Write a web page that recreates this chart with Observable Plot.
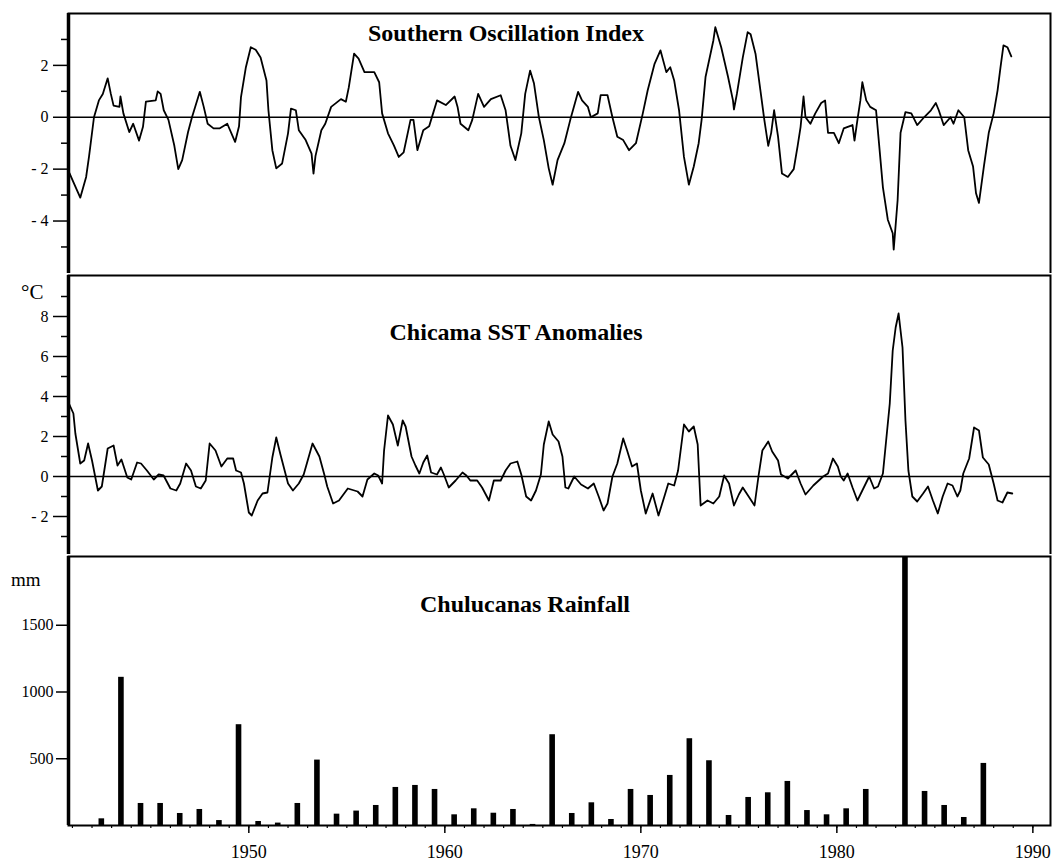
<!DOCTYPE html>
<html><head><meta charset="utf-8">
<script src="https://cdn.jsdelivr.net/npm/d3@7"></script>
<script src="https://cdn.jsdelivr.net/npm/@observablehq/plot@0.6"></script>
<style>
body{margin:0;background:#fff;}
#wrap{position:relative;width:1062px;height:861px;font-family:"Liberation Serif","Times New Roman",serif;color:#000;overflow:hidden;}
.p{position:absolute;left:0;}
.p svg{display:block;}
.title{position:absolute;font-weight:bold;font-size:24px;line-height:24px;white-space:nowrap;transform:translateX(-50%);}
.lab{position:absolute;white-space:nowrap;}
</style></head><body><div id="wrap"></div>
<script>
// ---------- data ----------
const soiYears = [1940.75,1940.85,1941.05,1941.4,1941.7,1941.85,1942.1,1942.35,1942.55,1942.8,1942.96,1943.1,1943.4,1943.45,1943.6,1943.9,1944.1,1944.4,1944.6,1944.75,1945.25,1945.35,1945.5,1945.66,1945.9,1946.2,1946.4,1946.6,1946.9,1947.1,1947.5,1947.7,1947.9,1948.2,1948.5,1948.9,1949.3,1949.5,1949.6,1949.85,1950.1,1950.35,1950.6,1950.9,1951.0,1951.2,1951.4,1951.7,1952.0,1952.15,1952.4,1952.55,1952.9,1953.2,1953.3,1953.4,1953.7,1953.9,1954.2,1954.7,1954.95,1955.1,1955.37,1955.6,1955.9,1956.4,1956.65,1956.8,1957.1,1957.4,1957.65,1957.9,1958.25,1958.4,1958.6,1958.9,1959.2,1959.4,1959.6,1960.05,1960.5,1960.65,1960.8,1961.2,1961.4,1961.7,1962.0,1962.35,1962.85,1963.1,1963.35,1963.6,1963.9,1964.1,1964.35,1964.55,1964.8,1965.05,1965.3,1965.5,1965.75,1966.1,1966.4,1966.8,1967.0,1967.3,1967.45,1967.8,1967.95,1968.3,1968.55,1968.8,1969.1,1969.4,1969.75,1970.1,1970.35,1970.7,1971.0,1971.3,1971.5,1971.7,1971.95,1972.2,1972.45,1972.7,1972.95,1973.1,1973.3,1973.7,1973.8,1974.1,1974.45,1974.7,1974.75,1974.9,1975.2,1975.45,1975.6,1975.85,1976.1,1976.3,1976.5,1976.65,1976.8,1977.0,1977.2,1977.5,1977.8,1978.0,1978.15,1978.3,1978.4,1978.65,1978.9,1979.2,1979.4,1979.55,1979.85,1980.1,1980.35,1980.8,1980.9,1981.05,1981.2,1981.3,1981.5,1981.7,1982.0,1982.15,1982.35,1982.6,1982.85,1982.9,1983.1,1983.25,1983.5,1983.8,1984.1,1984.45,1984.8,1985.05,1985.2,1985.45,1985.8,1985.95,1986.2,1986.5,1986.7,1986.95,1987.1,1987.25,1987.5,1987.75,1988.0,1988.2,1988.35,1988.5,1988.7,1988.9];
const soiValues = [-1.96,-2.15,-2.5,-3.1,-2.3,-1.5,0.0,0.65,0.9,1.5,0.9,0.45,0.4,0.8,0.15,-0.57,-0.25,-0.9,-0.37,0.6,0.65,1.0,0.9,0.27,-0.1,-1.1,-2.0,-1.65,-0.57,0.0,0.98,0.4,-0.25,-0.43,-0.43,-0.25,-0.95,-0.35,0.78,1.93,2.7,2.6,2.3,1.42,0.27,-1.27,-1.97,-1.78,-0.62,0.33,0.27,-0.5,-0.88,-1.4,-2.17,-1.5,-0.5,-0.25,0.4,0.7,0.6,1.15,2.45,2.26,1.74,1.74,1.35,0.15,-0.62,-1.08,-1.53,-1.35,-0.1,-0.1,-1.27,-0.5,-0.35,0.15,0.65,0.47,0.8,0.4,-0.25,-0.5,-0.1,0.9,0.4,0.7,0.85,0.27,-1.1,-1.65,-0.62,0.9,1.8,1.3,0.0,-0.88,-1.97,-2.6,-1.65,-1.0,-0.1,0.98,0.65,0.4,0.0,0.15,0.85,0.85,0.0,-0.75,-0.88,-1.27,-1.0,0.15,1.04,2.06,2.58,1.74,1.93,1.42,0.27,-1.53,-2.6,-1.9,-1.0,-0.1,1.55,2.96,3.47,2.7,1.55,0.65,0.3,0.9,2.3,3.28,3.2,2.45,1.04,-0.1,-1.1,-0.6,0.27,-0.75,-2.17,-2.3,-2.0,-1.1,-0.37,0.8,0.0,-0.25,0.15,0.55,0.65,-0.6,-0.6,-1.0,-0.43,-0.3,-0.9,-0.1,0.65,1.35,0.65,0.4,0.27,-1.0,-2.7,-3.95,-4.47,-5.1,-3.2,-0.6,0.2,0.15,-0.3,0.0,0.27,0.55,0.27,-0.3,0.0,-0.25,0.27,0.0,-1.27,-1.9,-2.93,-3.3,-1.9,-0.6,0.15,1.04,1.93,2.77,2.7,2.35];

const sstYears = [1940.8,1941.05,1941.15,1941.4,1941.6,1941.8,1942.0,1942.3,1942.5,1942.8,1943.1,1943.3,1943.5,1943.8,1944.0,1944.3,1944.5,1944.8,1945.15,1945.4,1945.65,1946.0,1946.3,1946.5,1946.8,1947.05,1947.3,1947.55,1947.8,1948.0,1948.3,1948.6,1948.9,1949.2,1949.35,1949.6,1949.75,1950.0,1950.15,1950.45,1950.7,1950.95,1951.2,1951.4,1951.6,1952.0,1952.25,1952.55,1952.8,1953.25,1953.6,1953.85,1954.0,1954.3,1954.6,1955.05,1955.55,1955.8,1956.05,1956.4,1956.6,1956.8,1956.9,1957.1,1957.35,1957.6,1957.85,1958.0,1958.3,1958.5,1958.7,1958.9,1959.1,1959.3,1959.6,1959.8,1959.95,1960.2,1960.55,1960.9,1961.1,1961.3,1961.65,1961.9,1962.25,1962.5,1962.85,1963.1,1963.35,1963.7,1963.9,1964.15,1964.4,1964.65,1964.9,1965.05,1965.3,1965.5,1965.8,1966.0,1966.15,1966.3,1966.6,1966.95,1967.3,1967.6,1967.85,1968.1,1968.3,1968.55,1968.8,1969.1,1969.3,1969.55,1969.8,1970.0,1970.25,1970.6,1970.9,1971.2,1971.4,1971.7,1971.9,1972.2,1972.45,1972.7,1972.9,1973.05,1973.4,1973.7,1974.0,1974.25,1974.5,1974.75,1975.0,1975.2,1975.5,1975.8,1976.0,1976.2,1976.5,1976.7,1977.0,1977.15,1977.5,1977.9,1978.15,1978.4,1978.8,1979.3,1979.55,1979.8,1980.05,1980.2,1980.35,1980.55,1980.8,1981.05,1981.3,1981.65,1981.9,1982.1,1982.35,1982.5,1982.7,1982.85,1983.0,1983.15,1983.35,1983.5,1983.65,1983.85,1984.1,1984.4,1984.65,1984.9,1985.15,1985.4,1985.65,1985.9,1986.15,1986.3,1986.45,1986.75,1987.0,1987.25,1987.45,1987.75,1988.0,1988.2,1988.45,1988.7,1988.95];
const sstValues = [3.7,3.15,2.15,0.65,0.8,1.65,0.8,-0.7,-0.5,1.4,1.55,0.55,0.85,-0.05,-0.15,0.7,0.65,0.3,-0.15,0.1,0.05,-0.6,-0.7,-0.35,0.65,0.3,-0.5,-0.6,-0.2,1.65,1.3,0.5,0.9,0.9,0.3,0.2,-0.35,-1.8,-1.95,-1.2,-0.85,-0.8,0.95,1.95,1.15,-0.35,-0.7,-0.35,0.1,1.65,1.0,0.1,-0.5,-1.35,-1.2,-0.6,-0.75,-1.0,-0.15,0.15,0.05,-0.35,1.3,3.05,2.6,1.55,2.8,2.5,1.0,0.55,0.15,0.7,1.05,0.2,0.1,0.45,0.1,-0.55,-0.2,0.2,0.05,-0.2,-0.2,-0.55,-1.2,-0.2,-0.2,0.3,0.65,0.75,0.1,-1.0,-1.2,-0.7,0.1,1.6,2.75,2.1,1.75,1.0,-0.55,-0.6,0.0,-0.4,-0.6,-0.35,-1.0,-1.7,-1.35,0.0,0.65,1.9,1.3,0.5,0.65,-0.7,-1.85,-0.85,-1.95,-1.0,-0.35,-0.45,0.3,2.6,2.25,2.5,1.6,-1.45,-1.2,-1.35,-1.0,0.05,-0.35,-1.45,-0.9,-0.55,-1.0,-1.45,0.0,1.3,1.75,1.25,0.8,0.1,-0.1,0.3,-0.35,-0.9,-0.45,0.0,0.15,0.9,0.5,0.0,-0.2,0.15,-0.55,-1.2,-0.7,0.0,-0.6,-0.5,0.15,1.65,3.65,6.3,7.45,8.15,6.45,2.8,0.3,-1.0,-1.25,-0.85,-0.5,-1.2,-1.85,-1.0,-0.35,-0.45,-1.0,-0.7,0.15,0.9,2.45,2.3,0.95,0.6,-0.35,-1.2,-1.3,-0.8,-0.85];

const rainYears = [1942,1943,1944,1945,1946,1947,1948,1949,1950,1951,1952,1953,1954,1955,1956,1957,1958,1959,1960,1961,1962,1963,1964,1965,1966,1967,1968,1969,1970,1971,1972,1973,1974,1975,1976,1977,1978,1979,1980,1981,1983,1984,1985,1986,1987];
const rainValues = [50,1110,165,165,90,120,37,755,30,18,165,490,85,108,150,285,300,270,80,125,92,120,8,680,90,170,45,270,225,375,650,485,75,210,245,330,112,80,125,270,2500,255,150,60,465];

const xDomain = [1940.8, 1990.9];
const decadeTicks = [1950, 1960, 1970, 1980, 1990];
const yearTicks = d3.range(1941, 1991);
const soiDomain = [-6.1, 4.0];
const soiMajor = [-4, -2, 0, 2];
const soiMinor = [-5, -3, -1, 1, 3];
const sstDomain = [-4, 10.05];
const sstMajor = [-2, 0, 2, 4, 6, 8];
const sstMinor = [-3, -1, 1, 3, 5, 7, 9];
const rainDomain = [0, 2015];
const rainTicks = [500, 1000, 1500];

const titles = ["Southern Oscillation Index", "Chicama SST Anomalies", "Chulucanas Rainfall"];
const unitSST = "°C";
const unitRain = "mm";

const soi = soiYears.map((y, i) => ({year: y, value: soiValues[i]}));
const sst = sstYears.map((y, i) => ({year: y, value: sstValues[i]}));
const rain = rainYears.map((y, i) => ({year: y, mm: rainValues[i]}));

// ---------- drawing ----------
const FONT = '"Liberation Serif","Times New Roman",serif';
const negFmt = d => d < 0 ? "- " + Math.abs(d) : String(d);
const blank = () => "";
const wrap = document.getElementById("wrap");

function place(svg, top) {
  const d = document.createElement("div");
  d.className = "p";
  d.style.top = top + "px";
  d.appendChild(svg);
  wrap.appendChild(d);
}
function label(text, cls, left, top, size) {
  const d = document.createElement("div");
  d.className = cls;
  d.textContent = text;
  d.style.left = left + "px";
  d.style.top = top + "px";
  if (size) { d.style.fontSize = size + "px"; d.style.lineHeight = size + "px"; }
  wrap.appendChild(d);
}
const common = {
  width: 1062, marginLeft: 68, marginRight: 12,
  style: {fontFamily: FONT, fontSize: "16px", color: "black", background: "white", overflow: "visible"}
};

// Panel 1: SOI
place(Plot.plot({
  ...common, height: 277, marginTop: 13, marginBottom: 2,
  x: {domain: xDomain, axis: null},
  y: {domain: soiDomain, axis: null},
  marks: [
    Plot.ruleY([0], {strokeWidth: 1.6}),
    Plot.line(soi, {x: "year", y: "value", strokeWidth: 1.8, clip: true}),
    Plot.axisY(soiMajor, {tickSize: 15, tickPadding: 5, tickFormat: negFmt, strokeWidth: 1.5, label: null}),
    Plot.axisY(soiMinor, {tickSize: 7, tickFormat: blank, strokeWidth: 1.5, label: null}),
    Plot.frame({strokeWidth: 2}),
    Plot.ruleX([xDomain[0]], {strokeWidth: 3.5})
  ]
}), 0);

// Panel 2: SST
place(Plot.plot({
  ...common, height: 285, marginTop: 2, marginBottom: 2,
  x: {domain: xDomain, axis: null},
  y: {domain: sstDomain, axis: null},
  marks: [
    Plot.ruleY([0], {strokeWidth: 1.6}),
    Plot.line(sst, {x: "year", y: "value", strokeWidth: 1.8, clip: true}),
    Plot.axisY(sstMajor, {tickSize: 15, tickPadding: 5, tickFormat: negFmt, strokeWidth: 1.5, label: null}),
    Plot.axisY(sstMinor, {tickSize: 7, tickFormat: blank, strokeWidth: 1.5, label: null}),
    Plot.frame({strokeWidth: 2}),
    Plot.ruleX([xDomain[0]], {strokeWidth: 3.5})
  ]
}), 273);

// Panel 3: Rainfall
place(Plot.plot({
  ...common, height: 307, marginTop: 2, marginBottom: 36,
  x: {domain: xDomain, axis: null},
  y: {domain: rainDomain, axis: null},
  marks: [
    Plot.rectY(rain, {x1: "year", x2: d => d.year + 1, y: "mm", insetLeft: 7, insetRight: 7, fill: "black", clip: true}),
    Plot.axisY(rainTicks, {tickSize: 12, tickPadding: 3, tickFormat: d => String(d), strokeWidth: 1.5, label: null}),
    Plot.axisX(yearTicks, {tickSize: 3, tickFormat: blank, strokeWidth: 1.2, label: null}),
    Plot.axisX(decadeTicks, {tickSize: 8, tickPadding: 12, tickFormat: d => String(d), fontSize: 18, strokeWidth: 1.5, label: null}),
    Plot.frame({strokeWidth: 2}),
    Plot.ruleX([xDomain[0]], {strokeWidth: 3.5})
  ]
}), 554);

// titles and unit labels
label(titles[0], "title", 506, 21);
label(titles[1], "title", 516, 320);
label(titles[2], "title", 525, 592);
label(unitSST, "lab", 21, 282, 21);
label(unitRain, "lab", 11, 570, 19);
</script>
</body></html>
